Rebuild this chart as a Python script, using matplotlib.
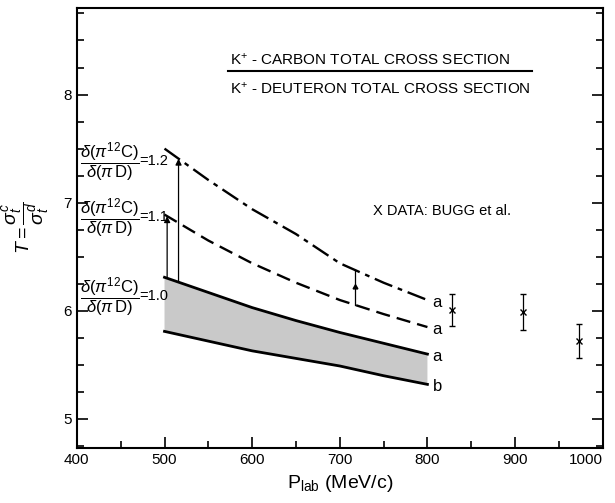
import numpy as np
import matplotlib
matplotlib.use("Agg")
import matplotlib.pyplot as plt
from matplotlib.lines import Line2D
from matplotlib.ticker import MultipleLocator

plt.rcParams['font.family'] = ['Liberation Sans', 'DejaVu Sans']
plt.rcParams['mathtext.fontset'] = 'custom'
plt.rcParams['mathtext.rm'] = 'Liberation Sans'
plt.rcParams['mathtext.it'] = 'Liberation Sans:italic'

# curves
p_lab = [500, 550, 600, 650, 700, 750, 800]
t_ratio_12 = [7.50, 7.21, 6.94, 6.71, 6.44, 6.26, 6.10]   # ratio 1.2, curve a
t_ratio_11 = [6.89, 6.65, 6.44, 6.26, 6.10, 5.97, 5.85]   # ratio 1.1, curve a
t_ratio_10a = [6.31, 6.17, 6.03, 5.91, 5.80, 5.70, 5.60]  # ratio 1.0, curve a
t_ratio_10b = [5.81, 5.72, 5.63, 5.56, 5.49, 5.40, 5.32]  # ratio 1.0, curve b

# Bugg et al. data
bugg_p = [828, 909, 973]
bugg_t = [6.01, 5.99, 5.72]
bugg_err = [0.15, 0.17, 0.16]

x_ticks = [400, 500, 600, 700, 800, 900, 1000]
x_tick_labels = ['400', '500', '600', '700', '800', '900', '1000']
ratio_labels = ['=1.2', '=1.1', '=1.0']
ratio_label_y = [7.37, 6.85, 6.12]
end_letters = ['a', 'a', 'a', 'b']

fig = plt.figure(figsize=(6.15, 5.03), dpi=100)
ax = fig.add_axes([0.125, 0.109, 0.855, 0.875])

ax.fill_between(p_lab, t_ratio_10b, t_ratio_10a, facecolor='#c9c9c9', edgecolor='none')
ax.plot(p_lab, t_ratio_10a, color='black', lw=2.0)
ax.plot(p_lab, t_ratio_10b, color='black', lw=2.0)
ax.plot(p_lab, t_ratio_11, color='black', lw=1.7, dashes=(6, 3))
ax.plot(p_lab, t_ratio_12, color='black', lw=1.7, dashes=(8, 2.5, 2, 2.5))

# arrows from the band up to the other curves
for xa, top in [(503, np.interp(503, p_lab, t_ratio_11)),
                (516, np.interp(516, p_lab, t_ratio_12))]:
    bot = np.interp(xa, p_lab, t_ratio_10a)
    ax.annotate('', xy=(xa, top), xytext=(xa, bot),
                arrowprops=dict(arrowstyle='-|>', color='black', lw=0.9,
                                mutation_scale=9, shrinkA=0, shrinkB=0))
xm = 717
ax.plot([xm, xm], [np.interp(xm, p_lab, t_ratio_11), np.interp(xm, p_lab, t_ratio_12)],
        color='black', lw=0.9)
ax.plot([xm], [(np.interp(xm, p_lab, t_ratio_11) + np.interp(xm, p_lab, t_ratio_12)) / 2],
        marker=(3, 0, 0), color='black', ms=4)

for ys, letter in zip([t_ratio_12, t_ratio_11, t_ratio_10a, t_ratio_10b], end_letters):
    ax.text(806, ys[-1] - 0.02, letter, fontsize=12, va='center', ha='left')

ax.errorbar(bugg_p, bugg_t, yerr=bugg_err, fmt='x', color='black', ms=4,
            mew=1.0, elinewidth=0.9, capsize=2)

for lab, yl in zip(ratio_labels, ratio_label_y):
    ax.text(404, yl, r'$\dfrac{\delta(\pi^{12}\mathrm{C})}{\delta(\pi\,\mathrm{D})}$',
            fontsize=12, va='center', ha='left')
    ax.text(471, yl + 0.02, lab, fontsize=10.5, va='center', ha='left')

# title block
ax.text(0.292, 0.882, r'K$^{+}$ - CARBON TOTAL CROSS SECTION', transform=ax.transAxes,
        fontsize=11, va='center', ha='left')
ax.text(0.292, 0.818, r'K$^{+}$ - DEUTERON TOTAL CROSS SECTION', transform=ax.transAxes,
        fontsize=11, va='center', ha='left')
ax.add_line(Line2D([0.288, 0.866], [0.857, 0.857], transform=ax.transAxes,
                   color='black', lw=1.5))
ax.text(0.563, 0.539, 'X DATA: BUGG et al.', transform=ax.transAxes,
        fontsize=10.5, va='center', ha='left')

ax.set_xlim(400, 1000)
ax.set_ylim(4.73, 8.8)
ax.set_xticks(x_ticks, x_tick_labels)
ax.xaxis.set_minor_locator(MultipleLocator(50))
ax.yaxis.set_major_locator(MultipleLocator(1))
ax.yaxis.set_minor_locator(MultipleLocator(0.25))
ax.tick_params(which='both', direction='in', right=True, top=False, labelsize=11, width=1.2)
ax.tick_params(which='major', length=8)
ax.tick_params(which='minor', length=5)
for s in ax.spines.values():
    s.set_linewidth(1.5)

ax.set_xlabel(r'P$_{\mathrm{lab}}$ (MeV/c)', fontsize=14, labelpad=4)
ax.set_ylabel(r'$T=\dfrac{\sigma^{c}_{t}}{\sigma^{d}_{t}}$', fontsize=14, labelpad=8)

# keep the "1000" label inside the figure
for lbl in ax.get_xticklabels():
    if lbl.get_text() == '1000':
        lbl.set_horizontalalignment('right')

fig.savefig('out.png', dpi=100)
